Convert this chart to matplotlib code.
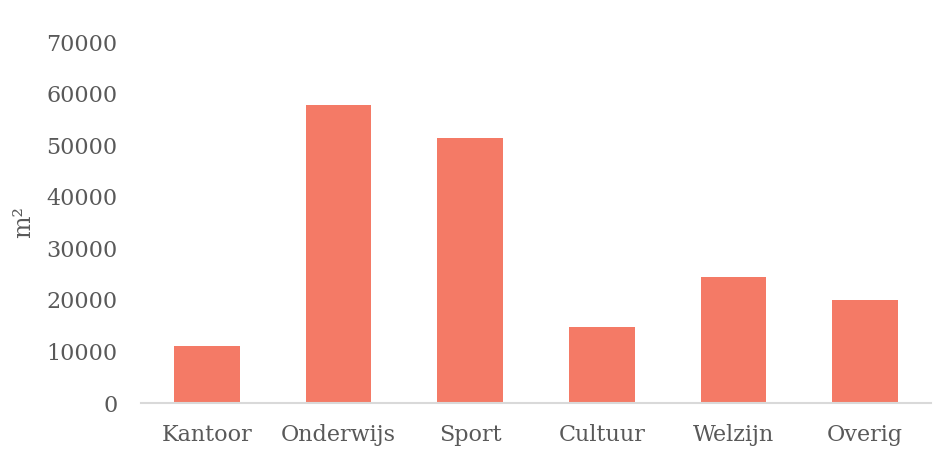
import matplotlib

matplotlib.use("Agg")
import matplotlib.pyplot as plt

categories = ["Kantoor", "Onderwijs", "Sport", "Cultuur", "Welzijn", "Overig"]
area_m2 = [11000, 57700, 51400, 14700, 24400, 20000]
y_ticks = [0, 10000, 20000, 30000, 40000, 50000, 60000, 70000]

text_color = "#595959"
plt.rcParams["font.family"] = ["DejaVu Serif"]

fig = plt.figure(figsize=(9.47, 4.61), dpi=100)
ax = fig.add_axes([141 / 947, 58 / 461, 790 / 947, 361 / 461])

x = range(len(categories))
ax.bar(x, area_m2, width=0.5, color="#F47A66", zorder=2)

ax.set_xlim(-0.5, len(categories) - 0.5)
ax.set_ylim(0, 70000)
ax.set_yticks(y_ticks)
ax.set_yticklabels([str(v) for v in y_ticks])
ax.set_xticks(list(x))
ax.set_xticklabels(categories)

for side in ("top", "right", "left"):
    ax.spines[side].set_visible(False)
ax.spines["bottom"].set_color("#D9D9D9")
ax.spines["bottom"].set_linewidth(1.5)

ax.tick_params(axis="both", length=0, colors=text_color, labelsize=16)
ax.tick_params(axis="y", pad=17)
ax.tick_params(axis="x", pad=15)
ax.set_ylabel("m²", color=text_color, fontsize=17, labelpad=8)

fig.savefig("out.png", dpi=100)
